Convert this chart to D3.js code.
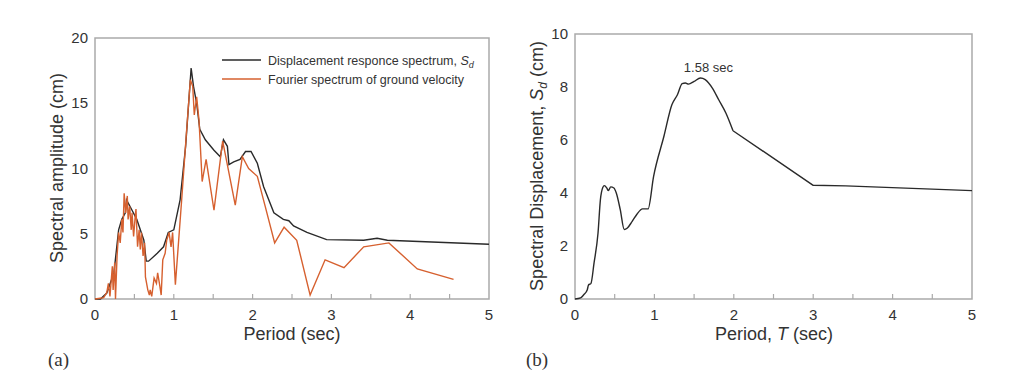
<!DOCTYPE html>
<html>
<head>
<meta charset="utf-8">
<script src="https://cdn.jsdelivr.net/npm/d3@7"></script>
<style>
  body { margin: 0; background: #fff; }
  svg text { font-family: "Liberation Sans", Arial, sans-serif; fill: #333; }
</style>
</head>
<body>
<svg id="chart" width="1024" height="384"></svg>
<script>
// Panel (a): displacement response spectrum, period (sec) vs cm
const sdPeriod = [0, 0.07, 0.15, 0.24, 0.30, 0.34, 0.385, 0.40, 0.47, 0.53, 0.575, 0.62, 0.65, 0.68, 0.79, 0.87, 0.93, 1.0,
  1.08, 1.15, 1.22, 1.25, 1.29, 1.33, 1.40, 1.51, 1.59, 1.63, 1.68, 1.70, 1.76, 1.84, 1.91, 1.98, 2.06, 2.14, 2.27,
  2.39, 2.46, 2.52, 2.69, 2.94, 3.41, 3.58, 3.71, 5.0];
const sdValue = [0, 0, 0.46, 2.0, 5.3, 6.1, 6.6, 7.6, 6.8, 6.1, 5.3, 4.5, 2.9, 2.9, 3.5, 4.0, 5.1, 5.3,
  7.6, 11.7, 17.7, 16.3, 15.0, 13.0, 12.2, 11.4, 10.9, 12.2, 11.7, 10.3, 10.5, 10.7, 11.3, 11.3, 10.4, 8.6, 6.6,
  6.1, 6.0, 5.6, 5.1, 4.55, 4.5, 4.65, 4.5, 4.2];

// Panel (a): Fourier spectrum of ground velocity
const fsPeriod = [0, 0.11, 0.15, 0.17, 0.19, 0.22, 0.23, 0.25, 0.26, 0.28, 0.30, 0.32, 0.34, 0.355, 0.37, 0.39, 0.41,
  0.42, 0.44, 0.46, 0.47, 0.49, 0.51, 0.52, 0.54, 0.56, 0.575, 0.59, 0.61, 0.63, 0.64, 0.67, 0.69, 0.70, 0.72, 0.75,
  0.78, 0.795, 0.82, 0.84, 0.86, 0.89, 0.91, 0.94, 0.965, 0.985, 1.02, 1.10, 1.16, 1.21, 1.24, 1.26, 1.29, 1.32,
  1.36, 1.41, 1.51, 1.62, 1.65, 1.78, 1.87, 1.95, 2.06, 2.16, 2.28, 2.40, 2.56, 2.73, 2.92, 3.16, 3.41, 3.73, 4.09, 4.55];
const fsValue = [0, 0.1, 0.5, 1.2, 0.2, 2.5, 0.7, 2.8, 0, 3.3, 5.1, 4.3, 6.1, 5.1, 8.1, 6.6, 7.9,
  6.1, 7.1, 5.3, 6.6, 4.8, 6.3, 6.9, 4.0, 5.3, 3.8, 5.1, 3.3, 4.3, 1.7, 0.7, 0.3, 0.7, 0.2, 1.6,
  1.2, 2.0, 1.1, 0.3, 3.0, 3.5, 4.5, 5.1, 4.0, 5.1, 1.1, 7.6, 12.7, 16.8, 16.3, 14.1, 15.5, 13.7,
  9.0, 10.7, 6.8, 12.1, 11.2, 7.2, 10.9, 10.0, 9.4, 7.1, 4.3, 5.5, 4.5, 0.3, 3.0, 2.4, 4.0, 4.3, 2.3, 1.5];

// Panel (b): spectral displacement Sd (smooth part up to 2 sec, then straight segments)
const bPeriod = [0, 0.07, 0.11, 0.155, 0.17, 0.20, 0.24, 0.29, 0.32, 0.35, 0.37, 0.40, 0.42, 0.45, 0.49, 0.52, 0.57,
  0.62, 0.66, 0.72, 0.78, 0.85, 0.92, 0.99, 1.12, 1.22, 1.29, 1.35, 1.39, 1.43, 1.50, 1.58, 1.64, 1.73, 1.81,
  1.90, 1.99];
const bValue = [0, 0.04, 0.16, 0.35, 0.53, 0.58, 1.36, 2.49, 3.75, 4.21, 4.28, 4.19, 4.09, 4.23, 4.19, 4.0, 3.37,
  2.62, 2.68, 2.93, 3.2, 3.4, 3.4, 4.63, 6.14, 7.33, 7.71, 8.13, 8.15, 8.11, 8.21, 8.34, 8.28, 7.96, 7.52,
  7.02, 6.35];
const bTailPeriod = [1.99, 3.0, 3.41, 5.0];
const bTailValue = [6.35, 4.29, 4.27, 4.09];

const xTicks = [0, 1, 2, 3, 4, 5];
const aYTicks = [0, 5, 10, 15, 20];
const bYTicks = [0, 2, 4, 6, 8, 10];

const svg = d3.select("#chart");
const frameColor = "#aaa";

function panel(opts) {
  const g = svg.append("g");
  const x = d3.scaleLinear().domain([0, 5]).range([opts.left, opts.right]);
  const y = d3.scaleLinear().domain([0, opts.yMax]).range([opts.bottom, opts.top]);

  // frame
  g.append("rect")
    .attr("x", opts.left).attr("y", opts.top)
    .attr("width", opts.right - opts.left).attr("height", opts.bottom - opts.top)
    .attr("fill", "none").attr("stroke", frameColor).attr("stroke-width", 1.5);

  // inward ticks on x axis every 0.5 sec
  g.append("g").selectAll("line")
    .data(d3.range(0.5, 5, 0.5))
    .join("line")
    .attr("x1", d => x(d)).attr("x2", d => x(d))
    .attr("y1", opts.bottom).attr("y2", opts.bottom - 5)
    .attr("stroke", frameColor).attr("stroke-width", 1.2);

  g.append("g").selectAll("text")
    .data(xTicks)
    .join("text")
    .attr("x", d => x(d)).attr("y", opts.bottom + 21)
    .attr("text-anchor", "middle")
    .attr("font-size", 15)
    .text(d => d);

  g.append("g").selectAll("text")
    .data(opts.yTicks)
    .join("text")
    .attr("x", opts.left - 7).attr("y", d => y(d) + 5)
    .attr("text-anchor", "end")
    .attr("font-size", 15)
    .text(d => d);

  return { g, x, y };
}

// ---- panel (a)
const a = panel({ left: 95, right: 489, top: 38, bottom: 299, yMax: 20, yTicks: aYTicks });
const lineA = d3.line().x(d => a.x(d[0])).y(d => a.y(d[1]));

a.g.append("path")
  .attr("d", lineA(d3.zip(sdPeriod, sdValue)))
  .attr("fill", "none").attr("stroke", "#2a2a2a").attr("stroke-width", 1.4);
a.g.append("path")
  .attr("d", lineA(d3.zip(fsPeriod, fsValue)))
  .attr("fill", "none").attr("stroke", "#d6602f").attr("stroke-width", 1.4);

a.g.append("text")
  .attr("transform", "translate(63,168) rotate(-90)")
  .attr("text-anchor", "middle").attr("font-size", 18)
  .text("Spectral amplitude (cm)");
a.g.append("text")
  .attr("x", 292).attr("y", 340)
  .attr("text-anchor", "middle").attr("font-size", 18)
  .text("Period (sec)");
svg.append("text")
  .attr("x", 48).attr("y", 366)
  .attr("font-size", 19).style("font-family", "'Liberation Serif', serif")
  .text("(a)");

// legend
const legend = [
  { label: "Displacement responce spectrum, ", sub: true, color: "#2a2a2a" },
  { label: "Fourier spectrum of ground velocity", sub: false, color: "#d6602f" }
];
legend.forEach((d, i) => {
  const ly = 60 + i * 19;
  a.g.append("line")
    .attr("x1", 222).attr("x2", 261).attr("y1", ly).attr("y2", ly)
    .attr("stroke", d.color).attr("stroke-width", 1.4);
  const t = a.g.append("text")
    .attr("x", 268).attr("y", ly + 4.5)
    .attr("font-size", 12.5)
    .text(d.label);
  if (d.sub) {
    t.append("tspan").attr("font-style", "italic").text("S");
    t.append("tspan").attr("font-style", "italic").attr("font-size", 9).attr("dy", 3).text("d");
  }
});

// ---- panel (b)
const b = panel({ left: 575, right: 972, top: 34, bottom: 299, yMax: 10, yTicks: bYTicks });
const lineB = d3.line().curve(d3.curveMonotoneX).x(d => b.x(d[0])).y(d => b.y(d[1]));
const lineBTail = d3.line().x(d => b.x(d[0])).y(d => b.y(d[1]));

b.g.append("path")
  .attr("d", lineB(d3.zip(bPeriod, bValue)))
  .attr("fill", "none").attr("stroke", "#2a2a2a").attr("stroke-width", 1.4);
b.g.append("path")
  .attr("d", lineBTail(d3.zip(bTailPeriod, bTailValue)))
  .attr("fill", "none").attr("stroke", "#2a2a2a").attr("stroke-width", 1.4)
  .attr("stroke-linejoin", "round");

b.g.append("text")
  .attr("x", b.x(1.58) + 8).attr("y", b.y(8.34) - 6)
  .attr("text-anchor", "middle").attr("font-size", 13)
  .text("1.58 sec");

const ylb = b.g.append("text")
  .attr("transform", "translate(543,166) rotate(-90)")
  .attr("text-anchor", "middle").attr("font-size", 18);
ylb.append("tspan").text("Spectral Displacement, ");
ylb.append("tspan").attr("font-style", "italic").text("S");
ylb.append("tspan").attr("font-style", "italic").attr("font-size", 12).attr("dy", 4).text("d");
ylb.append("tspan").attr("dy", -4).text(" (cm)");

const xlb = b.g.append("text")
  .attr("x", 774).attr("y", 340)
  .attr("text-anchor", "middle").attr("font-size", 18);
xlb.append("tspan").text("Period, ");
xlb.append("tspan").attr("font-style", "italic").text("T");
xlb.append("tspan").text(" (sec)");

svg.append("text")
  .attr("x", 526).attr("y", 366)
  .attr("font-size", 19).style("font-family", "'Liberation Serif', serif")
  .text("(b)");
</script>
</body>
</html>
